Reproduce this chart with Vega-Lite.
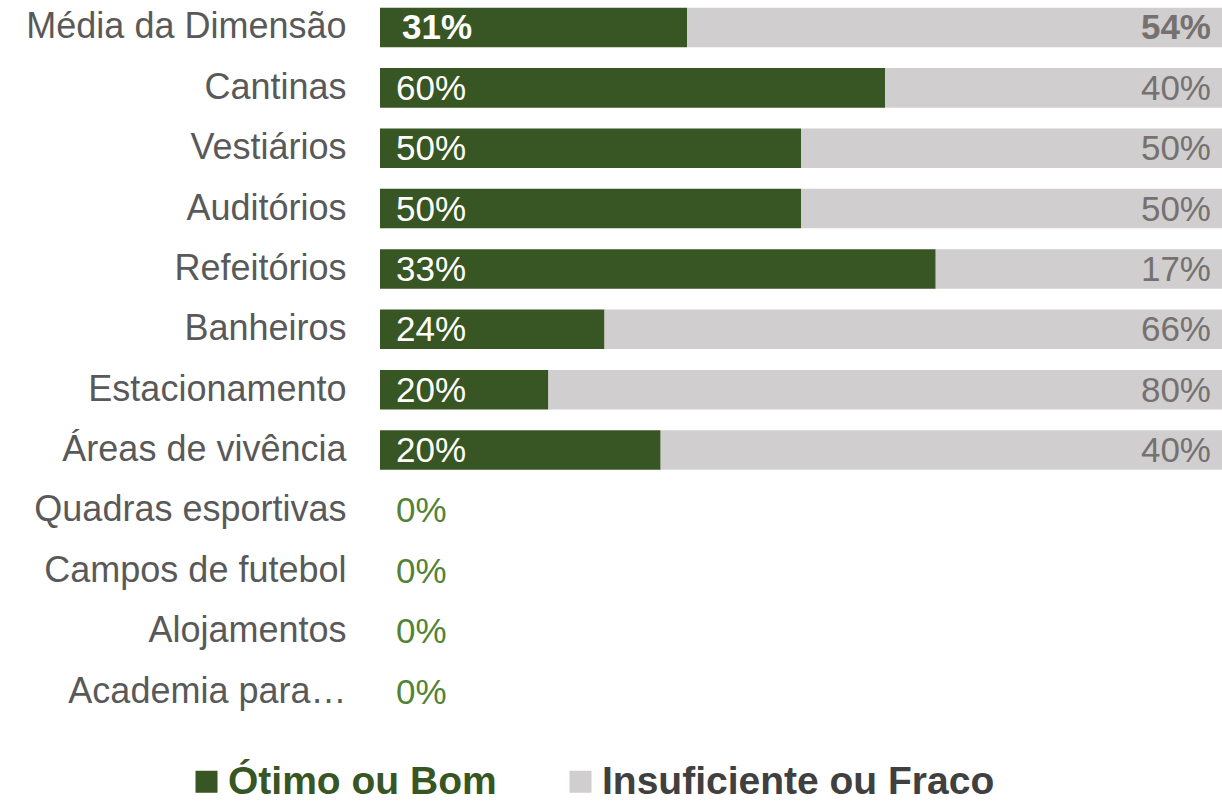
{
  "$schema": "https://vega.github.io/schema/vega-lite/v6.json",
  "width": 842,
  "height": 719,
  "autosize": {"type": "none"},
  "padding": {"left": 380, "top": 0, "right": 0, "bottom": 87},
  "config": {"view": {"stroke": null}, "font": "Liberation Sans"},
  "data": {
    "values": [
      {"categoria": "Média da Dimensão", "avaliacao": "Ótimo ou Bom", "pct": 0.31},
      {"categoria": "Média da Dimensão", "avaliacao": "Insuficiente ou Fraco", "pct": 0.54},
      {"categoria": "Cantinas", "avaliacao": "Ótimo ou Bom", "pct": 0.60},
      {"categoria": "Cantinas", "avaliacao": "Insuficiente ou Fraco", "pct": 0.40},
      {"categoria": "Vestiários", "avaliacao": "Ótimo ou Bom", "pct": 0.50},
      {"categoria": "Vestiários", "avaliacao": "Insuficiente ou Fraco", "pct": 0.50},
      {"categoria": "Auditórios", "avaliacao": "Ótimo ou Bom", "pct": 0.50},
      {"categoria": "Auditórios", "avaliacao": "Insuficiente ou Fraco", "pct": 0.50},
      {"categoria": "Refeitórios", "avaliacao": "Ótimo ou Bom", "pct": 0.33},
      {"categoria": "Refeitórios", "avaliacao": "Insuficiente ou Fraco", "pct": 0.17},
      {"categoria": "Banheiros", "avaliacao": "Ótimo ou Bom", "pct": 0.24},
      {"categoria": "Banheiros", "avaliacao": "Insuficiente ou Fraco", "pct": 0.66},
      {"categoria": "Estacionamento", "avaliacao": "Ótimo ou Bom", "pct": 0.20},
      {"categoria": "Estacionamento", "avaliacao": "Insuficiente ou Fraco", "pct": 0.80},
      {"categoria": "Áreas de vivência", "avaliacao": "Ótimo ou Bom", "pct": 0.20},
      {"categoria": "Áreas de vivência", "avaliacao": "Insuficiente ou Fraco", "pct": 0.40},
      {"categoria": "Quadras esportivas", "avaliacao": "Ótimo ou Bom", "pct": 0},
      {"categoria": "Quadras esportivas", "avaliacao": "Insuficiente ou Fraco", "pct": 0},
      {"categoria": "Campos de futebol", "avaliacao": "Ótimo ou Bom", "pct": 0},
      {"categoria": "Campos de futebol", "avaliacao": "Insuficiente ou Fraco", "pct": 0},
      {"categoria": "Alojamentos", "avaliacao": "Ótimo ou Bom", "pct": 0},
      {"categoria": "Alojamentos", "avaliacao": "Insuficiente ou Fraco", "pct": 0},
      {"categoria": "Academia para…", "avaliacao": "Ótimo ou Bom", "pct": 0},
      {"categoria": "Academia para…", "avaliacao": "Insuficiente ou Fraco", "pct": 0}
    ]
  },
  "encoding": {
    "y": {
      "field": "categoria",
      "type": "nominal",
      "sort": ["Média da Dimensão", "Cantinas", "Vestiários", "Auditórios", "Refeitórios", "Banheiros", "Estacionamento", "Áreas de vivência", "Quadras esportivas", "Campos de futebol", "Alojamentos", "Academia para…"],
      "scale": {"paddingInner": 0.345, "paddingOuter": 0.128},
      "axis": {
        "title": null,
        "domain": false,
        "ticks": false,
        "grid": false,
        "labelFont": "Liberation Sans",
        "labelFontSize": 36,
        "labelColor": "#595959",
        "labelPadding": 34,
        "labelLimit": 0
      }
    }
  },
  "layer": [
    {
      "transform": [{"filter": "datum.pct > 0"}],
      "mark": {"type": "bar"},
      "encoding": {
        "x": {"field": "pct", "type": "quantitative", "stack": "normalize", "scale": {"domain": [0, 1]}, "axis": null},
        "order": {"field": "avaliacao", "sort": "descending"},
        "color": {
          "field": "avaliacao",
          "type": "nominal",
          "sort": ["Ótimo ou Bom", "Insuficiente ou Fraco"],
          "scale": {"domain": ["Ótimo ou Bom", "Insuficiente ou Fraco"], "range": ["#375623", "#d0cece"]},
          "legend": {
            "title": null,
            "orient": "none",
            "direction": "horizontal",
            "legendX": -193,
            "legendY": 762,
            "symbolType": "square",
            "symbolSize": 484,
            "symbolStrokeWidth": 0,
            "labelFont": "Liberation Sans",
            "labelFontSize": 39,
            "labelFontWeight": "bold",
            "labelOffset": 2,
            "columnPadding": 64,
            "labelLimit": 0,
            "encode": {
              "labels": {"update": {"fill": {"signal": "datum.value === 'Ótimo ou Bom' ? '#375623' : '#404040'"}}}
            }
          }
        }
      }
    },
    {
      "transform": [{"filter": "datum.avaliacao === 'Ótimo ou Bom' && datum.categoria !== 'Média da Dimensão'"}],
      "mark": {"type": "text", "align": "left", "baseline": "middle", "dx": 16, "dy": 1, "fontSize": 35, "font": "Liberation Sans"},
      "encoding": {
        "x": {"datum": 0, "type": "quantitative"},
        "text": {"field": "pct", "type": "quantitative", "format": ".0%"},
        "color": {"condition": {"test": "datum.pct === 0", "value": "#548235"}, "value": "#ffffff"}
      }
    },
    {
      "transform": [{"filter": "datum.avaliacao === 'Ótimo ou Bom' && datum.categoria === 'Média da Dimensão'"}],
      "mark": {"type": "text", "align": "left", "baseline": "middle", "dx": 22, "dy": 1, "fontSize": 35, "fontWeight": "bold", "font": "Liberation Sans", "color": "#ffffff"},
      "encoding": {
        "x": {"datum": 0, "type": "quantitative"},
        "text": {"field": "pct", "type": "quantitative", "format": ".0%"}
      }
    },
    {
      "transform": [{"filter": "datum.avaliacao === 'Insuficiente ou Fraco' && datum.pct > 0 && datum.categoria !== 'Média da Dimensão'"}],
      "mark": {"type": "text", "align": "right", "baseline": "middle", "dx": -11, "dy": 1, "fontSize": 35, "font": "Liberation Sans", "color": "#767171"},
      "encoding": {
        "x": {"datum": 1, "type": "quantitative"},
        "text": {"field": "pct", "type": "quantitative", "format": ".0%"}
      }
    },
    {
      "transform": [{"filter": "datum.avaliacao === 'Insuficiente ou Fraco' && datum.categoria === 'Média da Dimensão'"}],
      "mark": {"type": "text", "align": "right", "baseline": "middle", "dx": -11, "dy": 1, "fontSize": 35, "fontWeight": "bold", "font": "Liberation Sans", "color": "#767171"},
      "encoding": {
        "x": {"datum": 1, "type": "quantitative"},
        "text": {"field": "pct", "type": "quantitative", "format": ".0%"}
      }
    }
  ]
}
